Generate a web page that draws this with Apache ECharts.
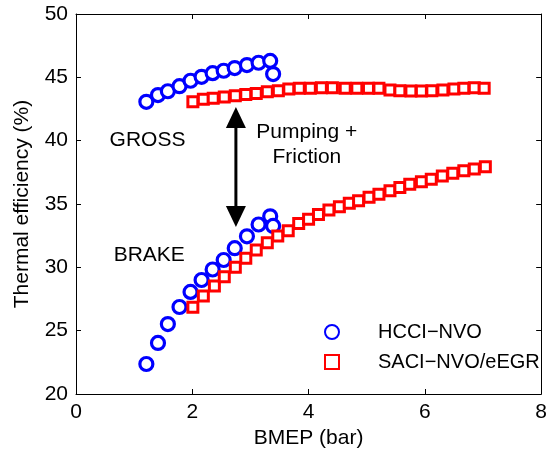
<!DOCTYPE html>
<html>
<head>
<meta charset="utf-8">
<script src="https://cdn.jsdelivr.net/npm/echarts@6/dist/echarts.min.js"></script>
<style>
  html, body { margin: 0; padding: 0; background: #fff; }
  #chart { width: 550px; height: 454px; }
</style>
</head>
<body>
<div id="chart"></div>
<script>
// HCCI with negative valve overlap: gross and brake thermal efficiency vs BMEP
const hcciBmep = [1.21, 1.41, 1.58, 1.78, 1.97, 2.16, 2.35, 2.54, 2.73, 2.94, 3.14, 3.34, 3.39];
const hcciGross = [43.07, 43.6, 43.9, 44.3, 44.73, 45.04, 45.33, 45.52, 45.73, 45.97, 46.15, 46.3, 45.26];
const hcciBrake = [22.37, 24.03, 25.52, 26.87, 28.06, 29.0, 29.83, 30.58, 31.51, 32.45, 33.38, 34.03, 33.27];

// SACI with NVO / external EGR
const saciGrossBmep = [2.01, 2.19, 2.36, 2.55, 2.74, 2.92, 3.10, 3.29, 3.48, 3.66, 3.84, 4.03, 4.22, 4.41,
  4.63, 4.83, 5.03, 5.21, 5.40, 5.57, 5.76, 5.94, 6.12, 6.31, 6.50, 6.67, 6.85, 7.02];
const saciGross = [43.07, 43.26, 43.34, 43.44, 43.54, 43.65, 43.73, 43.86, 43.94, 44.07, 44.13, 44.13, 44.18, 44.18,
  44.13, 44.13, 44.13, 44.13, 44.0, 43.94, 43.92, 43.92, 43.94, 44.0, 44.07, 44.13, 44.18, 44.13];
const saciBrakeBmep = [2.01, 2.19, 2.38, 2.55, 2.74, 2.92, 3.10, 3.29, 3.47, 3.65, 3.83, 4.00, 4.17, 4.35,
  4.53, 4.70, 4.86, 5.04, 5.21, 5.40, 5.57, 5.74, 5.94, 6.11, 6.30, 6.48, 6.67, 6.85, 7.04];
const saciBrake = [26.84, 27.73, 28.52, 29.26, 30.0, 30.71, 31.37, 31.94, 32.47, 32.89, 33.47, 33.79, 34.17, 34.52,
  34.78, 35.05, 35.26, 35.53, 35.76, 36.05, 36.31, 36.55, 36.76, 36.95, 37.21, 37.42, 37.62, 37.76, 37.94];

// Axis ranges and ticks
const xTicks = [0, 2, 4, 6, 8];
const yTicks = [20, 25, 30, 35, 40, 45, 50];

// Text annotations placed in data units [bmep, efficiency, text]
const notes = [
  [1.23, 40.05, 'GROSS'],
  [1.26, 30.97, 'BRAKE'],
  [3.97, 40.68, 'Pumping +'],
  [3.97, 38.72, 'Friction']
];
// Double-headed arrow between gross and brake curves [bmep, top, bottom]
const arrow = [[2.75, 42.65, 33.18]];

const seriesNames = ['HCCI\u2212NVO', 'SACI\u2212NVO/eEGR'];
const FONT = 'Liberation Sans, Arial, Helvetica, sans-serif';
const FS = 21;

const zip = (xs, ys) => xs.map((x, i) => [x, ys[i]]);

const circleStyle = { color: '#ffffff', borderColor: '#0000ff', borderWidth: 3.2, opacity: 1 };
const squareStyle = { color: '#ffffff', borderColor: '#ff0000', borderWidth: 3, opacity: 1 };

const chart = echarts.init(document.getElementById('chart'), null, { renderer: 'canvas' });

const axisCommon = {
  type: 'value',
  axisLine: { show: true, onZero: false, lineStyle: { color: '#000', width: 1 } },
  axisTick: { show: true, inside: true, length: 5, lineStyle: { color: '#000' } },
  splitLine: { show: false },
};

chart.setOption({
  animation: false,
  backgroundColor: '#fff',
  textStyle: { fontFamily: FONT },
  grid: { left: 76, right: 6, top: 14, bottom: 60, containLabel: false },
  xAxis: [
    Object.assign({}, axisCommon, {
      min: xTicks[0], max: xTicks[xTicks.length - 1], interval: 2, position: 'bottom',
      name: 'BMEP (bar)', nameLocation: 'middle', nameGap: 34,
      nameTextStyle: { fontSize: FS, color: '#000', fontFamily: FONT },
      axisLabel: { fontSize: FS, color: '#000', margin: 8, fontFamily: FONT }
    }),
    Object.assign({}, axisCommon, {
      min: xTicks[0], max: xTicks[xTicks.length - 1], interval: 2, position: 'top',
      axisLabel: { show: false }
    })
  ],
  yAxis: [
    Object.assign({}, axisCommon, {
      min: yTicks[0], max: yTicks[yTicks.length - 1], interval: 5, position: 'left',
      name: 'Thermal efficiency (%)', nameLocation: 'middle', nameGap: 43,
      nameTextStyle: { fontSize: FS, color: '#000', fontFamily: FONT },
      axisLabel: { fontSize: FS, color: '#000', margin: 8, fontFamily: FONT }
    }),
    Object.assign({}, axisCommon, {
      min: yTicks[0], max: yTicks[yTicks.length - 1], interval: 5, position: 'right',
      axisLabel: { show: false }
    })
  ],
  legend: {
    orient: 'vertical',
    left: 319, top: 317,
    itemWidth: 14, itemHeight: 14, itemGap: 10,
    data: seriesNames,
    textStyle: { fontSize: FS - 1, color: '#000', fontFamily: FONT, padding: [0, 0, 0, 34] }
  },
  series: [
    {
      name: seriesNames[0], type: 'scatter', symbol: 'circle', symbolSize: 13,
      itemStyle: circleStyle, data: zip(hcciBmep, hcciGross), z: 2
    },
    {
      name: seriesNames[0], type: 'scatter', symbol: 'circle', symbolSize: 13,
      itemStyle: circleStyle, data: zip(hcciBmep, hcciBrake), z: 2
    },
    {
      name: seriesNames[1], type: 'scatter', symbol: 'rect', symbolSize: 10,
      itemStyle: squareStyle, data: zip(saciGrossBmep, saciGross), z: 3
    },
    {
      name: seriesNames[1], type: 'scatter', symbol: 'rect', symbolSize: 10,
      itemStyle: squareStyle, data: zip(saciBrakeBmep, saciBrake), z: 3
    },
    {
      name: 'arrow', type: 'custom', data: arrow, z: 4,
      renderItem: function (params, api) {
        const top = api.coord([api.value(0), api.value(1)]);
        const bot = api.coord([api.value(0), api.value(2)]);
        const hw = 10, hl = 21;
        return {
          type: 'group',
          children: [
            { type: 'line', shape: { x1: top[0], y1: top[1] + hl - 2, x2: bot[0], y2: bot[1] - hl + 2 },
              style: { stroke: '#000', lineWidth: 3 } },
            { type: 'polygon', shape: { points: [[top[0], top[1]], [top[0] - hw, top[1] + hl], [top[0] + hw, top[1] + hl]] },
              style: { fill: '#000' } },
            { type: 'polygon', shape: { points: [[bot[0], bot[1]], [bot[0] - hw, bot[1] - hl], [bot[0] + hw, bot[1] - hl]] },
              style: { fill: '#000' } }
          ]
        };
      }
    },
    {
      name: 'notes', type: 'scatter', symbolSize: 0, silent: true, z: 5,
      itemStyle: { opacity: 1 },
      data: notes.map(n => ({ value: [n[0], n[1]], text: n[2] })),
      label: {
        show: true, position: 'inside', color: '#000', opacity: 1, fontSize: FS, fontFamily: FONT,
        formatter: p => p.data.text
      }
    }
  ]
});
</script>
</body>
</html>
